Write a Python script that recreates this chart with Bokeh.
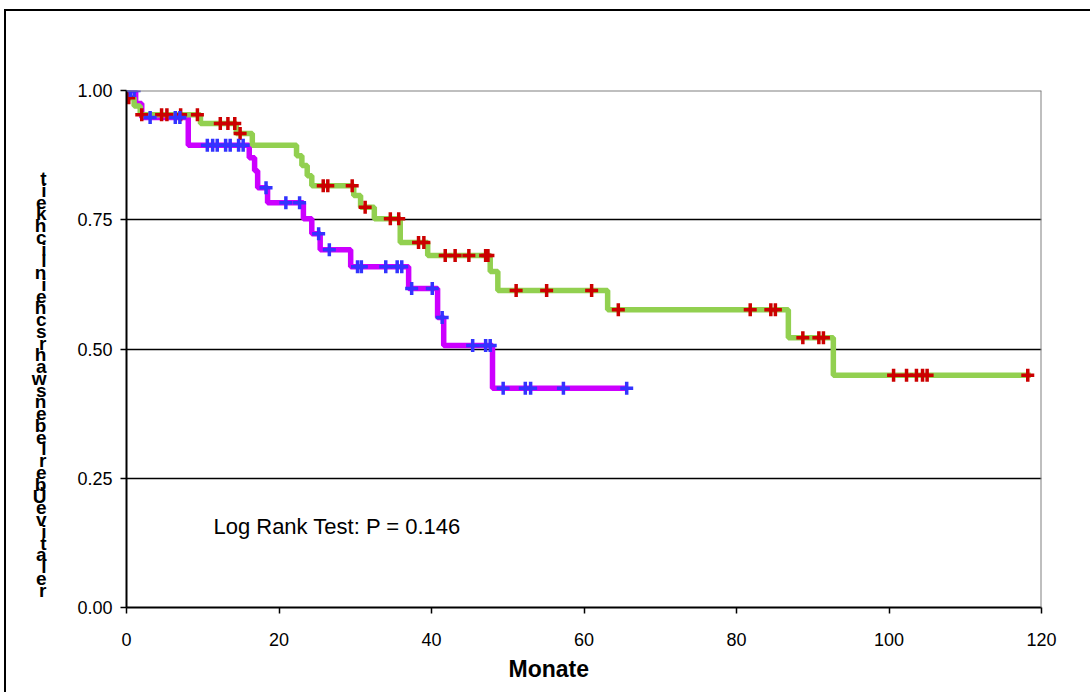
import numpy as np
from bokeh.plotting import figure
from bokeh.models import Label, Span, FixedTicker, NumeralTickFormatter, Range1d, Title
from bokeh.embed import file_html
from bokeh.resources import INLINE

# ---------------- data ----------------
x_title = "Monate"
y_title = "relative Überlebenswahrscheinlichkeit"
test_text = "Log Rank Test: P = 0.146"
x_ticks = [0, 20, 40, 60, 80, 100, 120]
y_ticks = [0.0, 0.25, 0.5, 0.75, 1.0]

# group 1 (green line, red censor marks): step times and survival after step
g1_step_t = [0, 0.2, 1.0, 1.8, 9.7, 14.4, 16.5, 22.3, 23.0, 23.7, 24.3, 29.8, 30.7,
             32.5, 35.9, 39.5, 47.7, 48.7, 63.1, 86.8, 92.7, 118.6]
g1_step_s = [1.0, 0.986, 0.970, 0.953, 0.936, 0.917, 0.894, 0.874, 0.855, 0.835, 0.816,
             0.797, 0.774, 0.752, 0.706, 0.681, 0.650, 0.613, 0.576, 0.522, 0.449, 0.449]
g1_censor_t = [0.3, 2.0, 4.6, 5.3, 7.1, 9.3, 12.3, 13.3, 14.2, 14.9, 25.8, 26.4, 29.6,
               31.3, 34.6, 35.7, 38.3, 39.0, 41.8, 43.1, 44.9, 47.1, 47.4, 51.1, 55.1,
               61.0, 64.5, 81.8, 84.5, 85.1, 88.7, 90.8, 91.4, 100.6, 102.3, 103.6,
               104.4, 105.0, 118.2]

# group 2 (magenta line, blue censor marks)
g2_step_t = [0, 1.2, 2.0, 8.1, 16.1, 16.8, 17.2, 18.5, 23.2, 24.3, 25.4, 29.4, 37.0,
             40.8, 41.6, 48.0, 65.6]
g2_step_s = [1.0, 0.975, 0.948, 0.894, 0.870, 0.845, 0.812, 0.783, 0.752, 0.723, 0.692,
             0.659, 0.617, 0.561, 0.507, 0.424, 0.424]
g2_censor_t = [0.5, 1.0, 3.1, 6.4, 7.0, 10.6, 11.3, 11.9, 13.0, 13.6, 14.7, 15.3, 18.3,
               20.9, 22.7, 25.2, 26.6, 30.3, 30.8, 34.0, 35.5, 36.1, 37.4, 40.1, 41.4,
               45.4, 47.1, 47.7, 49.4, 52.3, 53.0, 57.3, 65.6]


def surv_at(times, steps_t, steps_s):
    idx = np.searchsorted(np.array(steps_t), np.array(times), side="right") - 1
    return list(np.array(steps_s)[idx])


FONT = "Liberation Sans"

p = figure(width=1086, height=683, x_range=Range1d(0, 120), y_range=Range1d(0, 1),
           output_backend="svg", toolbar_location=None,
           min_border_left=120, min_border_right=51, min_border_top=79, min_border_bottom=87)
p.background_fill_color = "white"
p.border_fill_color = "white"
p.outline_line_color = None
p.styles = {"border-left": "2px solid black", "border-top": "2px solid black",
            "margin-left": "4px", "margin-top": "9px"}

# grid
p.xgrid.visible = False
p.ygrid.ticker = FixedTicker(ticks=[0.25, 0.5, 0.75])
p.ygrid.grid_line_color = "black"
p.ygrid.grid_line_width = 1.5

# top / right frame borders
p.add_layout(Span(location=1.0, dimension="width", line_color="#808080", line_width=2))
p.add_layout(Span(location=120, dimension="height", line_color="#808080", line_width=2))

# axes
for ax in (p.xaxis[0], p.yaxis[0]):
    ax.axis_line_color = "black"
    ax.axis_line_width = 2
    ax.major_tick_line_color = "black"
    ax.major_tick_line_width = 1.5
    ax.major_tick_out = 6
    ax.major_tick_in = 0
    ax.minor_tick_line_color = None
    ax.major_label_text_font = FONT
    ax.major_label_text_font_size = "18px"
    ax.major_label_text_color = "black"

p.xaxis.ticker = FixedTicker(ticks=x_ticks)
p.yaxis.ticker = FixedTicker(ticks=y_ticks)
p.yaxis.formatter = NumeralTickFormatter(format="0.00")
p.xaxis.major_label_standoff = 19
p.yaxis.major_label_standoff = 8

# x-axis title (placed slightly left of centre, as in the original)
p.add_layout(Title(text=x_title, align="left", offset=382, text_font=FONT,
                   text_font_style="bold", text_font_size="23px", text_color="black",
                   standoff=10), "below")

# stacked (upright, bottom-to-top) y-axis title as rendered in the original
chars = list("".join(y_title.split()))
stack = "\n".join([" "] * 6 + list(reversed(chars)))
p.yaxis.axis_label = stack
p.yaxis.axis_label_orientation = "horizontal"
p.yaxis.axis_label_text_font = FONT
p.yaxis.axis_label_text_font_style = "bold"
p.yaxis.axis_label_text_font_size = "19px"
p.yaxis.axis_label_text_color = "black"
p.yaxis.axis_label_text_line_height = 0.56
p.yaxis.axis_label_standoff = 28

# curves
p.step(g2_step_t, g2_step_s, mode="after", line_color="#CC00FF", line_width=5.5)
p.step(g1_step_t, g1_step_s, mode="after", line_color="#92D050", line_width=5.5)

p.scatter(g1_censor_t, surv_at(g1_censor_t, g1_step_t, g1_step_s), marker="cross",
          size=13, line_color="#CC0000", line_width=3.5)
p.scatter(g2_censor_t, surv_at(g2_censor_t, g2_step_t, g2_step_s), marker="cross",
          size=13, line_color="#3333FF", line_width=3.5)

# log rank annotation
p.add_layout(Label(x=11.4, y=0.157, text=test_text, text_font=FONT, text_font_size="22px",
                   text_color="black", text_baseline="middle", text_align="left"))

open("out.html", "w").write(file_html(p, INLINE))
